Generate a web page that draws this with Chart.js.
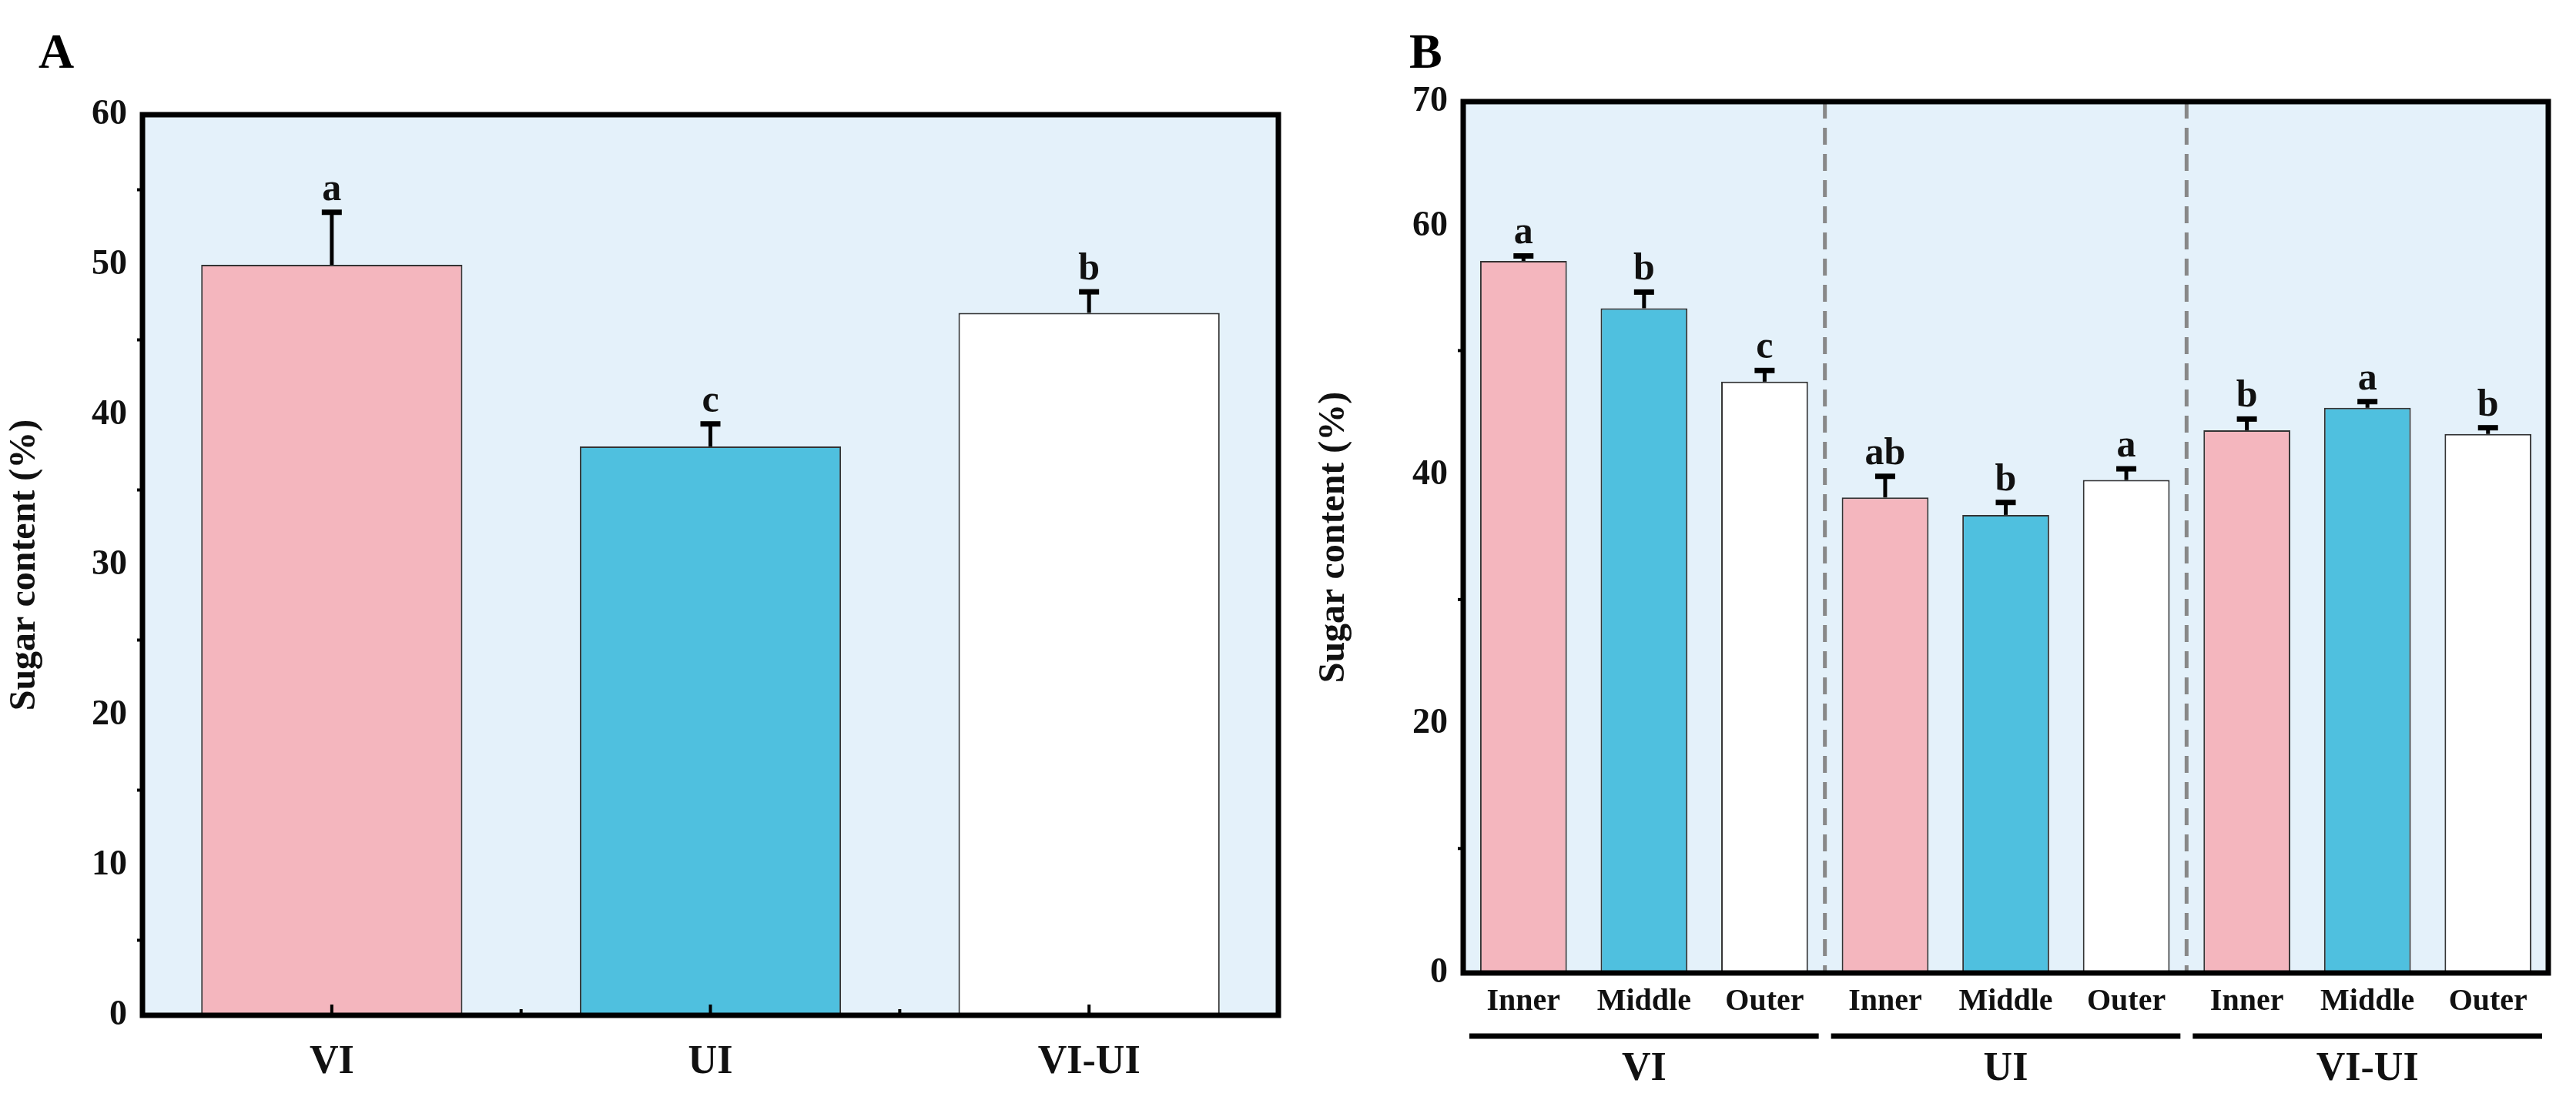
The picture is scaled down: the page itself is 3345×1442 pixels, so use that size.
<!DOCTYPE html>
<html><head><meta charset="utf-8">
<script src="https://cdn.jsdelivr.net/npm/chart.js@4"></script>
<style>body{margin:0;background:#fff;width:3345px;height:1442px;position:relative;overflow:hidden}
canvas{position:absolute;top:0}
.lab{position:absolute;font:bold 64px "Liberation Serif";}
</style></head><body>
<div class="lab" style="left:50px;top:30px">A</div>
<div class="lab" style="left:1830px;top:30px">B</div>
<div style="position:absolute;left:0;top:0;width:1700px;height:1442px"><canvas id="a"></canvas></div>
<div style="position:absolute;left:1700px;top:0;width:1645px;height:1442px"><canvas id="b"></canvas></div>
<script>
const catsA=["VI","UI","VI-UI"];
const valsA=[50.0,37.9,46.8];
const errA=[3.5,1.5,1.4];
const letA=["a","c","b"];
const catsB=["Inner","Middle","Outer","Inner","Middle","Outer","Inner","Middle","Outer"];
const groupsB=["VI","UI","VI-UI"];
const valsB=[57.2,53.4,47.5,38.2,36.8,39.6,43.6,45.4,43.3];
const errB=[0.4,1.3,0.9,1.7,1.0,0.9,0.9,0.5,0.5];
const letB=["a","b","c","ab","b","a","b","a","b"];
const pal=["#f4b6be","#4fc0df","#ffffff"];
const F='"Liberation Serif"';
Chart.defaults.font.family=F;Chart.defaults.font.weight='bold';Chart.defaults.color='#111';
Chart.defaults.devicePixelRatio=1;
function deco(errs,lets,extra){return{id:'deco',
 beforeDraw(c){const a=c.chartArea,x=c.ctx;x.save();x.fillStyle='#e4f1fa';x.fillRect(a.left,a.top,a.right-a.left,a.bottom-a.top);x.restore();},
 afterDatasetsDraw(c){const x=c.ctx,m=c.getDatasetMeta(0),ys=c.scales.y,a=c.chartArea;x.save();
  if(extra)extra(c,x);
  m.data.forEach((b,i)=>{const v=c.data.datasets[0].data[i],t=ys.getPixelForValue(v+errs[i]);
   x.strokeStyle='#000';x.lineWidth=5;x.beginPath();x.moveTo(b.x,b.y);x.lineTo(b.x,t);x.stroke();
   x.lineWidth=7;x.beginPath();x.moveTo(b.x-13,t);x.lineTo(b.x+13,t);x.stroke();
   x.fillStyle='#111';x.font='bold 50px '+F;x.textAlign='center';x.textBaseline='bottom';x.fillText(lets[i],b.x,t-4);});
  x.strokeStyle='#000';x.lineWidth=7;x.strokeRect(a.left,a.top,a.right-a.left,a.bottom-a.top);
  x.restore();}}}
function mk(id,cats,vals,errs,lets,o){
 return new Chart(document.getElementById(id),{type:'bar',
 data:{labels:cats,datasets:[{data:vals,backgroundColor:cats.map((_,i)=>pal[i%3]),borderColor:'#333',borderWidth:2,borderSkipped:false,barPercentage:o.bp,categoryPercentage:1}]},
 options:{responsive:true,maintainAspectRatio:false,animation:false,layout:{padding:{top:o.top,right:o.right,left:0,bottom:0}},
 plugins:{legend:{display:false},tooltip:{enabled:false}},
 scales:{x:{grid:{display:false,drawTicks:false},border:{display:false},ticks:{font:{size:o.xfs,weight:'bold'},padding:o.xpad},afterFit:s=>{s.height=o.xh}},
  y:{min:0,max:o.max,ticks:{stepSize:o.step,font:{size:46,weight:'bold'},padding:8},grid:{display:false,drawTicks:true,tickLength:12,tickWidth:4,tickColor:'#000'},border:{display:false},
   title:{display:true,text:'Sugar content (%)',font:{size:48,weight:'bold'},padding:4},afterFit:s=>{s.width=o.yw}}}},
 plugins:[deco(errs,lets,o.extra)]});}
mk('a',catsA,valsA,errsA=errA,letA,{bp:0.69,top:149,right:40,xh:123,yw:185,max:60,step:10,xfs:52,xpad:30,
 extra:(c,x)=>{const ys=c.scales.y,a=c.chartArea;x.strokeStyle='#000';x.lineWidth=4;
  for(let v=5;v<60;v+=10){const y=ys.getPixelForValue(v);x.beginPath();x.moveTo(a.left-7,y);x.lineTo(a.left,y);x.stroke();}
  const xs=c.scales.x;for(let i=0;i<3;i++){const p=xs.getPixelForValue(i);x.beginPath();x.moveTo(p,a.bottom);x.lineTo(p,a.bottom-14);x.stroke();
   if(i<2){const q=(p+xs.getPixelForValue(i+1))/2;x.beginPath();x.moveTo(q,a.bottom);x.lineTo(q,a.bottom-8);x.stroke();}}}});
mk('b',catsB,valsB,errB,letB,{bp:0.72,top:132,right:36,xh:178,yw:200,max:70,step:20,xfs:40,xpad:14,
 extra:(c,x)=>{const ys=c.scales.y,xs=c.scales.x,a=c.chartArea,w=(a.right-a.left)/9;
  x.strokeStyle='#000';x.lineWidth=4;
  for(let v=10;v<70;v+=20){const y=ys.getPixelForValue(v);x.beginPath();x.moveTo(a.left-7,y);x.lineTo(a.left,y);x.stroke();}
  x.strokeStyle='#888';x.lineWidth=5;x.setLineDash([22,12]);
  [3,6].forEach(k=>{const p=a.left+k*w;x.beginPath();x.moveTo(p,a.top);x.lineTo(p,a.bottom);x.stroke();});
  x.setLineDash([]);
  groupsB.forEach((g,k)=>{const l=a.left+k*3*w+8,r=a.left+(k+1)*3*w-8;
   x.strokeStyle='#000';x.lineWidth=7;x.beginPath();x.moveTo(l,1346);x.lineTo(r,1346);x.stroke();
   x.fillStyle='#111';x.font='bold 52px '+F;x.textAlign='center';x.textBaseline='top';x.fillText(g,(l+r)/2,1364);});}});
</script></body></html>
